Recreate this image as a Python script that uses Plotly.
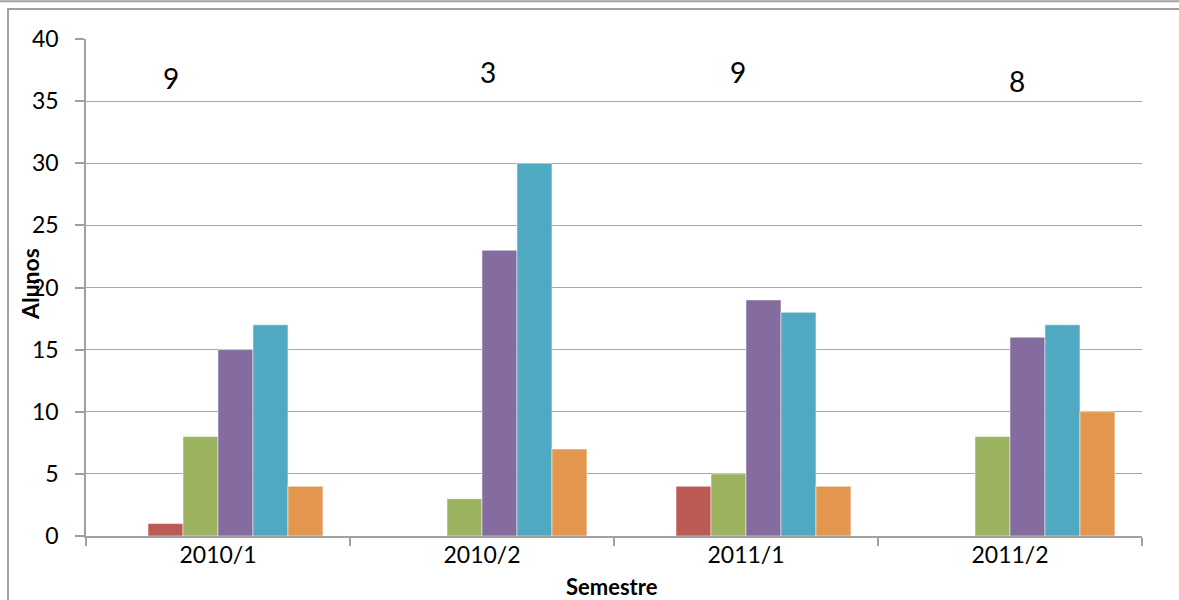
import plotly.graph_objects as go

categories = ["2010/1", "2010/2", "2011/1", "2011/2"]
series_names = ["Série 1", "Série 2", "Série 3", "Série 4", "Série 5", "Série 6"]
s1 = [0, 0, 0, 0]          # hidden first series (reserves slot)
s2 = [1, 0, 4, 0]
s3 = [8, 3, 5, 8]
s4 = [15, 23, 19, 16]
s5 = [17, 30, 18, 17]
s6 = [4, 7, 4, 10]
top_labels = ["9", "3", "9", "8"]
top_label_y = [36.85, 37.35, 37.35, 36.6]
top_label_dx = [-47, 6, -8, 7]
y_ticks = [0, 5, 10, 15, 20, 25, 30, 35, 40]

colors = ["rgba(0,0,0,0)", "#BC5A55", "#9BB25F", "#846CA0", "#4FA9C0", "#E3974E"]
FONT = "Lato"

fig = go.Figure()
for name, vals, col in zip(series_names, [s1, s2, s3, s4, s5, s6], colors):
    fig.add_trace(go.Bar(
        x=categories, y=vals, name=name,
        marker=dict(color=col, line=dict(color="rgba(255,255,255,0.5)", width=1 if col != colors[0] else 0)),
        hoverinfo="x+y",
    ))

annotations = []
for cat, lab, ly, dx in zip(categories, top_labels, top_label_y, top_label_dx):
    annotations.append(dict(x=cat, y=ly, xref="x", yref="y", text=lab, showarrow=False,
                            xshift=dx, xanchor="center", yanchor="middle",
                            font=dict(family=FONT, size=28, color="#000")))
annotations.append(dict(x=0, y=0.507, xref="paper", yref="paper", text="<b>Alunos</b>",
                        textangle=-90, showarrow=False, xshift=-56, xanchor="center", yanchor="middle",
                        font=dict(family=FONT, size=23, color="#000")))
annotations.append(dict(x=0.498, y=0, xref="paper", yref="paper", text="<b>Semestre</b>",
                        showarrow=False, yshift=-50, xanchor="center", yanchor="middle",
                        font=dict(family=FONT, size=22, color="#000")))

W0, H0 = 1056, 497
def px_x(p):
    return (p - 86) / W0
def px_y(p):
    return (536 - p) / H0

shapes = [
    dict(type="line", xref="paper", yref="paper", x0=px_x(-5), x1=px_x(1190), y0=px_y(1.2), y1=px_y(1.2),
         line=dict(color="#A0A0A0", width=2)),
    dict(type="rect", xref="paper", yref="paper", x0=px_x(8), x1=px_x(1200), y0=px_y(9), y1=px_y(620),
         line=dict(color="#A0A0A0", width=2), fillcolor="rgba(0,0,0,0)"),
]

fig.update_layout(
    width=1179, height=600,
    margin=dict(l=86, r=37, t=39, b=64),
    paper_bgcolor="white", plot_bgcolor="white",
    barmode="group", bargap=0.205, bargroupgap=0,
    showlegend=False,
    font=dict(family=FONT, size=23, color="#000"),
    annotations=annotations,
    shapes=shapes,
    xaxis=dict(
        type="category", tickson="boundaries", ticks="outside", ticklen=8,
        tickcolor="#A0A0A0", tickwidth=1.5,
        showline=True, linecolor="#A0A0A0", linewidth=1.5,
        showgrid=False, tickfont=dict(family=FONT, size=23),
        ticklabelstandoff=-2,
    ),
    yaxis=dict(
        range=[0, 40], tickvals=y_ticks, ticks="outside", ticklen=9,
        tickcolor="#A0A0A0", tickwidth=1.5,
        showline=True, linecolor="#A0A0A0", linewidth=1.5,
        showgrid=True, gridcolor="#A6A6A6", gridwidth=1.3,
        zeroline=False, tickfont=dict(family=FONT, size=23),
        ticklabelstandoff=12,
    ),
)

fig.write_html("out.html", config={"displayModeBar": False},
               post_script="document.body.style.margin='0';document.body.style.overflow='hidden';")
